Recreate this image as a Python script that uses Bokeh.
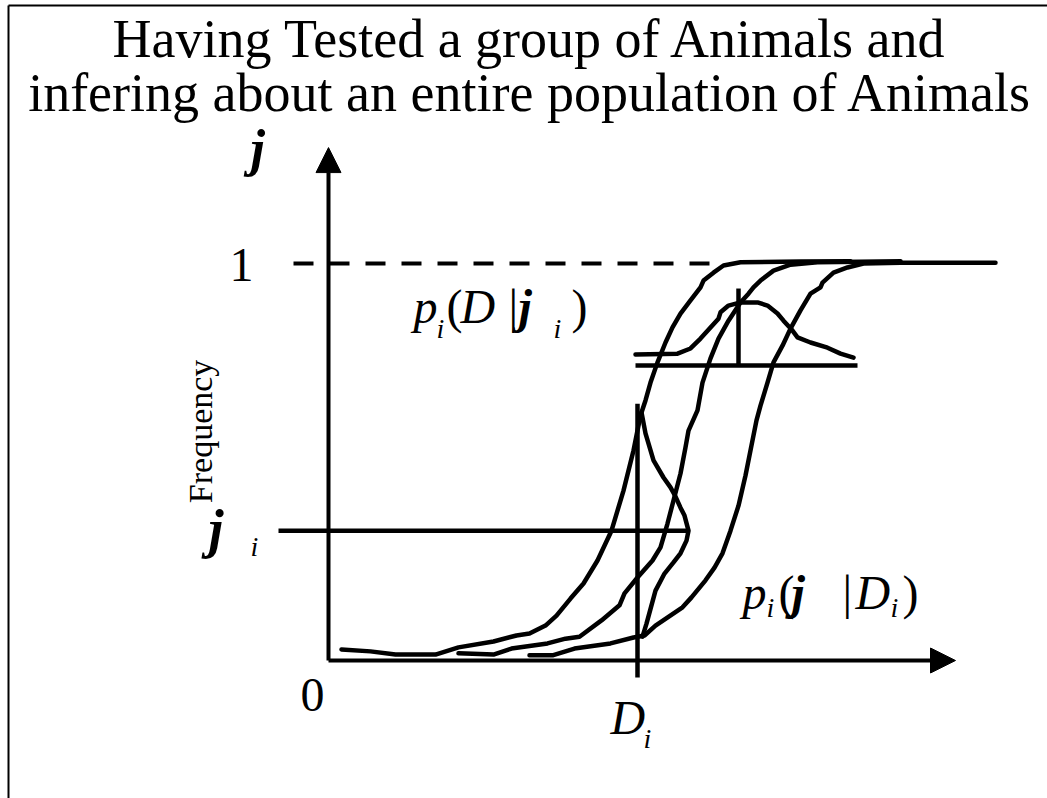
import math
from bokeh.plotting import figure
from bokeh.models import Range1d, Arrow, NormalHead
from bokeh.core.properties import value
from bokeh.embed import file_html
from bokeh.resources import INLINE

# Dose (x) and response frequency (y) of three dose-response curves
dose_a = [0.13, 0.42, 0.67, 1.07, 1.30, 1.65, 1.88, 2.01, 2.17, 2.28, 2.42, 2.55, 2.69,
          2.83, 2.95, 3.05, 3.12, 3.17, 3.22, 3.29, 3.37, 3.44, 3.52, 3.62, 3.72, 3.75,
          3.85, 3.95, 4.12, 4.72, 5.22]
freq_a = [0.028, 0.023, 0.015, 0.015, 0.033, 0.048, 0.063, 0.068, 0.088, 0.113, 0.156,
          0.194, 0.252, 0.327, 0.428, 0.529, 0.617, 0.655, 0.700, 0.751, 0.801, 0.839,
          0.874, 0.907, 0.940, 0.957, 0.977, 0.995, 1.003, 1.005, 1.006]

dose_b = [1.30, 1.65, 1.83, 2.19, 2.37, 2.51, 2.73, 2.91, 2.96, 3.09, 3.24, 3.32, 3.39,
          3.45, 3.52, 3.57, 3.60, 3.69, 3.74, 3.82, 3.90, 4.00, 4.12, 4.20, 4.25, 4.32,
          4.45, 4.62, 4.89, 5.72]
freq_b = [0.018, 0.015, 0.030, 0.043, 0.055, 0.060, 0.101, 0.139, 0.169, 0.209, 0.252,
          0.285, 0.345, 0.403, 0.471, 0.537, 0.579, 0.630, 0.700, 0.761, 0.811, 0.856,
          0.902, 0.924, 0.940, 0.957, 0.982, 0.997, 1.003, 1.006]

dose_c = [2.01, 2.24, 2.46, 2.82, 3.05, 3.16, 3.27, 3.54, 3.63, 3.77, 3.86, 3.94, 4.02,
          4.10, 4.17, 4.23, 4.28, 4.32, 4.39, 4.45, 4.54, 4.62, 4.72, 4.82, 4.92, 4.94,
          5.05, 5.19, 5.35, 5.72, 6.67]
freq_c = [0.013, 0.013, 0.030, 0.043, 0.058, 0.063, 0.088, 0.134, 0.159, 0.202, 0.234,
          0.270, 0.327, 0.390, 0.466, 0.542, 0.605, 0.642, 0.700, 0.751, 0.793, 0.836,
          0.882, 0.924, 0.940, 0.952, 0.977, 0.990, 1.000, 1.002, 1.002]

# Spread of response frequency at the tested dose D_i, drawn sideways
lik_dose = [3.14, 3.18, 3.27, 3.36, 3.45, 3.52, 3.58, 3.60, 3.56, 3.52, 3.46, 3.42,
            3.35, 3.25, 3.17, 3.13]
lik_freq = [0.060, 0.093, 0.176, 0.219, 0.247, 0.270, 0.302, 0.327, 0.365, 0.385,
            0.418, 0.436, 0.461, 0.504, 0.572, 0.625]

# Spread of dose for the observed frequency, drawn on its own baseline
post_dose = [3.07, 3.49, 3.62, 3.72, 3.82, 3.90, 3.92, 4.00, 4.12, 4.29, 4.39, 4.49,
             4.55, 4.64, 4.69, 4.82, 4.99, 5.12, 5.25]
post_freq = [0.771, 0.773, 0.786, 0.811, 0.839, 0.861, 0.877, 0.894, 0.902, 0.902,
             0.894, 0.874, 0.856, 0.831, 0.814, 0.801, 0.788, 0.773, 0.763]
post_base = 0.743
post_span = [3.07, 5.29]
post_mode = 4.10
post_mode_top = 0.937

# Tested dose and observed frequency
d_i = 3.09
j_i = 0.327
d_i_span = [-0.043, 0.647]
j_i_span = [-0.50, 3.61]

# Axes extents
x_axis_end = 6.27
y_axis_end = 1.292
full_level = 1.0
full_dash_span = [-0.35, 3.92]

SERIF = value("Liberation Serif")
LW = 4.5

p = figure(width=1047, height=798, output_backend="svg", toolbar_location=None,
           x_range=Range1d(-3.28, 7.19), y_range=Range1d(-0.3476, 1.6625),
           min_border=0, x_axis_location=None, y_axis_location=None,
           outline_line_color=None, background_fill_color="white",
           border_fill_color="white")
p.xgrid.visible = False
p.ygrid.visible = False

# frame lines on the top and left edges
p.segment(x0=[-3.20, -3.20], y0=[1.650, 1.650], x1=[7.19, -3.20], y1=[1.650, -0.3476],
          line_color="black", line_width=2)

# axes with arrow heads
for xs, ys, xe, ye in [(0, 0, 0, y_axis_end), (0, 0, x_axis_end, 0)]:
    p.add_layout(Arrow(end=NormalHead(size=25, fill_color="black", line_color="black",
                                      line_width=1),
                       x_start=xs, y_start=ys, x_end=xe, y_end=ye,
                       line_width=4, line_color="black"))

# frequency = 1 reference
p.line(full_dash_span, [full_level, full_level], line_color="black", line_width=4,
       line_dash="20 16")

# tested dose and observed frequency guides
p.line([d_i, d_i], d_i_span, line_color="black", line_width=LW)
p.line(j_i_span, [j_i, j_i], line_color="black", line_width=LW)

# dose-response curves
for xs, ys in [(dose_a, freq_a), (dose_b, freq_b), (dose_c, freq_c)]:
    p.line(xs, ys, line_color="black", line_width=LW, line_join="round", line_cap="round")

# spread of frequency at D_i
p.line(lik_dose, lik_freq, line_color="black", line_width=LW, line_join="round",
       line_cap="round")

# spread of dose for the observed frequency
p.line(post_span, [post_base, post_base], line_color="black", line_width=LW)
p.line(post_dose, post_freq, line_color="black", line_width=LW, line_join="round",
       line_cap="round")
p.line([post_mode, post_mode], [post_base, post_mode_top], line_color="black",
       line_width=LW)


def put(x, y, s, size, style="normal", align="left", baseline="alphabetic", angle=0.0):
    # nudge so the glyph baseline sits on y
    lift = -round(0.37 * size) if baseline == "alphabetic" else 0
    p.text(x=[x], y=[y], text=[s], text_font=SERIF, text_font_size=f"{size}px",
           text_font_style=style, text_align=align, text_baseline=baseline,
           angle=angle, text_color="black", y_offset=lift)


# title
put(2.02, 1.516, "Having Tested a group of Animals and", 54, align="center")
put(2.02, 1.380, "infering about an entire population of Animals", 54, align="center")

# axis annotations
put(-0.78, 1.242, "j", 52, "bold italic")
put(-0.87, 0.950, "1", 48, align="center")
put(-0.16, -0.131, "0", 48, align="center")
put(-1.28, 0.577, "Frequency", 34, align="center", baseline="middle", angle=math.pi / 2)

put(-1.20, 0.282, "j", 54, "bold italic")
put(-0.78, 0.262, "i", 28, "italic")

put(2.82, -0.189, "D", 48, "italic")
put(3.15, -0.222, "i", 28, "italic")

# p_i(D | j_i)
put(0.85, 0.846, "p", 48, "italic")
put(1.08, 0.811, "i", 28, "italic")
put(1.18, 0.846, "(", 48)
put(1.32, 0.846, "D", 48, "italic")
put(1.80, 0.846, "|", 48)
put(1.90, 0.846, "j", 48, "bold italic")
put(2.25, 0.811, "i", 28, "italic")
put(2.43, 0.846, ")", 48)

# p_i(j | D_i)
put(4.14, 0.126, "p", 48, "italic")
put(4.38, 0.108, "i", 28, "italic")
put(4.50, 0.126, "(", 48)
put(4.63, 0.126, "j", 48, "bold italic")
put(5.14, 0.126, "|", 48)
put(5.27, 0.126, "D", 48, "italic")
put(5.62, 0.108, "i", 28, "italic")
put(5.74, 0.126, ")", 48)

open("out.html", "w").write(file_html(p, INLINE))
